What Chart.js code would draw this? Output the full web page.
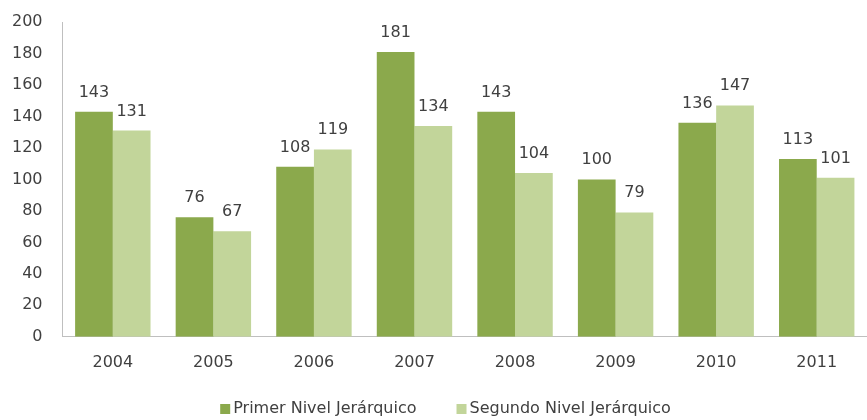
<!DOCTYPE html>
<html>
<head>
<meta charset="utf-8">
<script src="https://cdn.jsdelivr.net/npm/chart.js@4/dist/chart.umd.min.js"></script>
<style>
  html, body { margin: 0; padding: 0; background: #ffffff; }
  #wrap { width: 867px; height: 420px; }
</style>
</head>
<body>
<div id="wrap"><canvas id="chart"></canvas></div>
<script>
const years = ['2004', '2005', '2006', '2007', '2008', '2009', '2010', '2011'];
const primer_nivel = [143, 76, 108, 181, 143, 100, 136, 113];
const segundo_nivel = [131, 67, 119, 134, 104, 79, 147, 101];

const font_family = '"DejaVu Sans", sans-serif';
const text_color = '#404040';

// value labels above each bar
const bar_labels = {
    id: 'bar_labels',
    afterDatasetsDraw(chart) {
        const ctx = chart.ctx;
        ctx.save();
        ctx.font = '16px ' + font_family;
        ctx.fillStyle = text_color;
        ctx.textAlign = 'center';
        ctx.textBaseline = 'alphabetic';
        chart.data.datasets.forEach((ds, i) => {
            chart.getDatasetMeta(i).data.forEach((bar, j) => {
                ctx.fillText(ds.data[j], bar.x, bar.y - 15);
            });
        });
        ctx.restore();
    }
};

// legend drawn by hand so the gap between the two entries can be wide
const bottom_legend = {
    id: 'bottom_legend',
    afterDraw(chart) {
        const ctx = chart.ctx;
        const box = 10, text_gap = 3, item_gap = 40, y = 409;
        ctx.save();
        ctx.font = '16px ' + font_family;
        const widths = chart.data.datasets.map(ds => box + text_gap + ctx.measureText(ds.label).width);
        const total = widths.reduce((a, b) => a + b, 0) + item_gap * (widths.length - 1);
        let x = (chart.width - total) / 2 + 12;
        ctx.textBaseline = 'middle';
        ctx.textAlign = 'left';
        chart.data.datasets.forEach((ds, i) => {
            ctx.fillStyle = ds.backgroundColor;
            ctx.fillRect(x, y - box / 2, box, box);
            ctx.fillStyle = text_color;
            ctx.fillText(ds.label, x + box + text_gap, y);
            x += widths[i] + item_gap;
        });
        ctx.restore();
    }
};

new Chart(document.getElementById('chart'), {
    type: 'bar',
    data: {
        labels: years,
        datasets: [{
            label: 'Primer Nivel Jerárquico',
            data: primer_nivel,
            backgroundColor: '#8BA94C'
        }, {
            label: 'Segundo Nivel Jerárquico',
            data: segundo_nivel,
            backgroundColor: '#C2D59A'
        }]
    },
    options: {
        responsive: true,
        maintainAspectRatio: false,
        animation: false,
        layout: {
            padding: { left: 0, right: 0, top: 22, bottom: 40 }
        },
        datasets: {
            bar: {
                categoryPercentage: 0.75,
                barPercentage: 1.0
            }
        },
        plugins: {
            legend: { display: false },
            tooltip: { enabled: false }
        },
        scales: {
            x: {
                grid: { display: false },
                border: { display: true, color: '#bfbfbf' },
                ticks: {
                    color: text_color,
                    padding: 8,
                    font: { size: 16, family: font_family }
                }
            },
            y: {
                min: 0,
                max: 200,
                grid: { display: false },
                border: { display: true, color: '#bfbfbf' },
                ticks: {
                    stepSize: 20,
                    color: text_color,
                    padding: 12,
                    font: { size: 16, family: font_family }
                }
            }
        }
    },
    plugins: [bar_labels, bottom_legend]
});
</script>
</body>
</html>
